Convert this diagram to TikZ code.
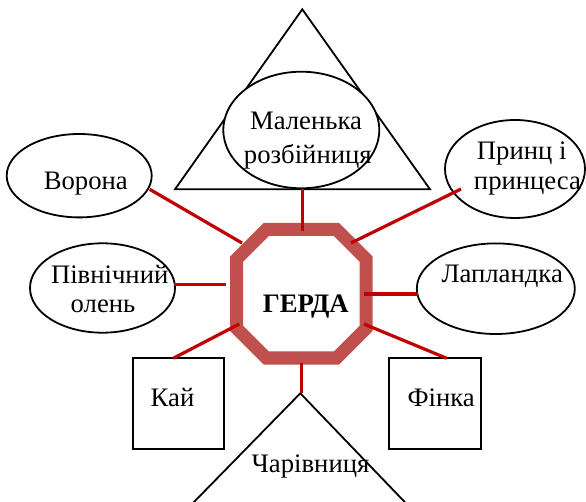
\documentclass[tikz,border=0pt]{standalone}
\usepackage{fontspec}
\setmainfont{Liberation Serif}
\usetikzlibrary{shapes.geometric}
\definecolor{connred}{HTML}{C00000}
\definecolor{octored}{HTML}{C0504D}
\begin{document}
\begin{tikzpicture}[x=1pt,y=-1pt,
  shapeline/.style={draw=black,line width=1.8pt},
  oval/.style={shapeline,ellipse,fill=white,inner sep=0pt},
  sq/.style={shapeline,rectangle,fill=white,inner sep=0pt},
  lbl/.style={anchor=base,inner sep=0pt,font=\fontsize{26.7}{30}\selectfont},
  connector/.style={draw=connred,line width=3.2pt},
]
\clip (0,0) rectangle (586,502);
\fill[white] (0,0) rectangle (586,502);

% top triangle
\coordinate (tri-top) at (302.3,9.3);
\coordinate (tri-left) at (175,189.3);
\coordinate (tri-right) at (430,189.3);
\coordinate (tri-base) at (302.3,189.3);
\draw[shapeline,line join=miter] (tri-top) -- (tri-left) -- (tri-right) -- cycle;

% ellipses
\node[oval,minimum width=156pt,minimum height=116.6pt] (mal) at (301.3,130) {};
\node[oval,minimum width=145pt,minimum height=83.4pt] (vorona) at (79.2,175.7) {};
\node[oval,minimum width=140pt,minimum height=98pt] (prynts) at (515,169) {};
\node[oval,minimum width=145pt,minimum height=89.4pt] (olen) at (102.5,288) {};
\node[oval,minimum width=158pt,minimum height=90.6pt] (lapl) at (495.8,288.7) {};

% squares
\node[sq,minimum width=91.6pt,minimum height=91pt] (kai) at (178.5,403.8) {};
\node[sq,minimum width=91.4pt,minimum height=91pt] (finka) at (435,403.8) {};

% bottom triangle
\coordinate (ch-top) at (300.3,393.3);
\coordinate (ch-left) at (176.4,520);
\coordinate (ch-right) at (422,520);
\draw[shapeline,line join=miter] (ch-left) -- (ch-top) -- (ch-right);

% octagon
\draw[octored,line width=13pt,line join=miter,fill=white]
  (266.2,229.5) -- (336.5,229.5) -- (366,259) -- (366,328.5) --
  (336.5,358) -- (266.2,358) -- (236.7,328.5) -- (236.7,259) -- cycle;
\coordinate (gerda) at (301.35,293.75);

% connector end points at the octagon
\coordinate (g-n) at (302.3,231);
\coordinate (g-nw) at (242,243);
\coordinate (g-w) at (226,284.3);
\coordinate (g-sw) at (239.3,324);
\coordinate (g-s) at (301.5,362.7);
\coordinate (g-se) at (364,324);
\coordinate (g-e) at (364,294);
\coordinate (g-ne) at (351,243);
% connector ends at the other shapes
\coordinate (vor-end) at (149.7,189.3);
\coordinate (ol-end) at (174,284.3);
\coordinate (kai-end) at (173.3,358.3);
\coordinate (ch-end) at (301.5,393.3);
\coordinate (fin-end) at (446.7,358.3);
\coordinate (lap-end) at (417.5,294);
\coordinate (pr-end) at (461,189);

\draw[connector] (tri-base) -- (g-n);
\draw[connector] (vor-end) -- (g-nw);
\draw[connector] (ol-end) -- (g-w);
\draw[connector] (kai-end) -- (g-sw);
\draw[connector] (ch-end) -- (g-s);
\draw[connector] (fin-end) -- (g-se);
\draw[connector] (lap-end) -- (g-e);
\draw[connector] (pr-end) -- (g-ne);

% labels
\node[lbl] (mal-t1) at (306,129.3) {Маленька};
\node[lbl] (mal-t2) at (307.8,163.3) {розбійниця};
\node[lbl] (vorona-t) at (85.8,190) {Ворона};
\node[lbl] (olen-t1) at (109.7,283.3) {Північний};
\node[lbl] (olen-t2) at (103,312.7) {олень};
\node[lbl] (prynts-t1) at (521.7,160) {Принц і};
\node[lbl] (prynts-t2) at (527.5,190) {принцеса};
\node[lbl] (lapl-t) at (502.2,282.7) {Лапландка};
\node[lbl,font=\fontsize{26.7}{30}\selectfont\bfseries] (gerda-t) at (305.8,312.7) {ГЕРДА};
\node[lbl] (kai-t) at (172.5,406) {Кай};
\node[lbl] (finka-t) at (441.2,406) {Фінка};
\node[lbl] (ch-t) at (310.5,472.7) {Чарівниця};
\end{tikzpicture}
\end{document}
